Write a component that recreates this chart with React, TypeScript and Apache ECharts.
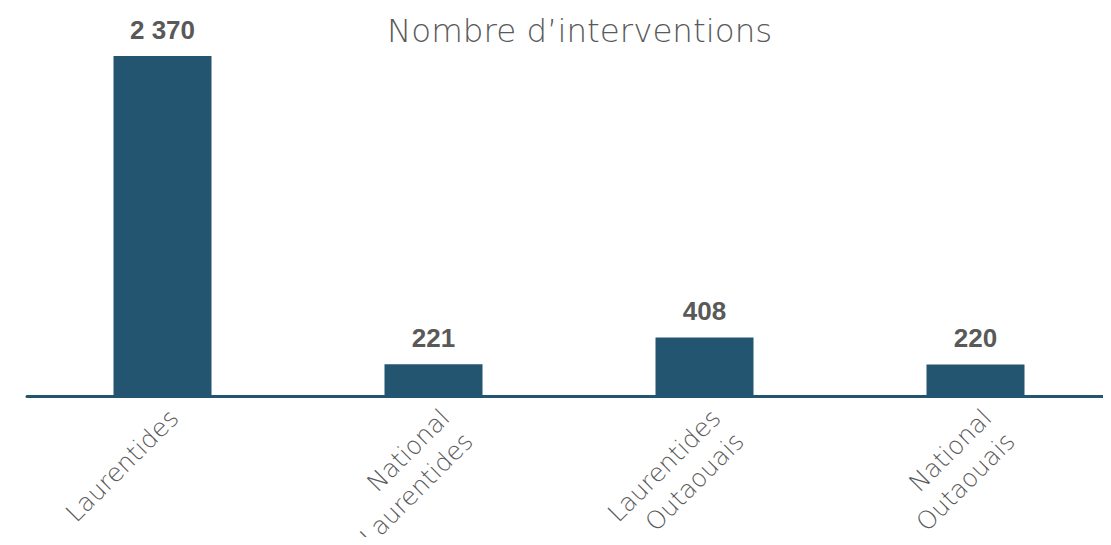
import React, { useEffect, useRef } from "react";
import * as echarts from "echarts";

const categories = [
  "Laurentides",
  "National\nLaurentides",
  "Laurentides\nOutaouais",
  "National\nOutaouais",
];
const values = [2370, 221, 408, 220];
const title = "Nombre d’interventions";

const fmt = (v: number) => String(v).replace(/\B(?=(\d{3})+(?!\d))/g, " ");

export default function App() {
  const ref = useRef<HTMLDivElement>(null);
  useEffect(() => {
    if (!ref.current) return;
    const chart = echarts.init(ref.current, null, { renderer: "svg" });
    chart.setOption({
      animation: false,
      backgroundColor: "#ffffff",
      title: {
        text: title,
        left: 382,
        top: 9,
        textStyle: {
          fontFamily: "DejaVu Sans",
          fontWeight: 200,
          fontSize: 32.5,
          color: "#595959",
        },
      },
      grid: {
        left: 27,
        right: 0,
        top: 56,
        bottom: 149,
        containLabel: false,
        outerBoundsMode: "none",
      },
      xAxis: {
        type: "category",
        data: categories,
        axisLine: { lineStyle: { color: "#23556f", width: 3 } },
        axisTick: { show: false },
        axisLabel: {
          rotate: 45,
          interval: 0,
          margin: 6,
          verticalAlign: "top",
          align: "right",
          fontFamily: "DejaVu Sans",
          fontWeight: 200,
          fontSize: 25,
          lineHeight: 33,
          color: "#595959",
        },
      },
      yAxis: {
        type: "value",
        min: 0,
        max: 2370,
        show: false,
        splitLine: { show: false },
      },
      series: [
        {
          type: "bar",
          data: values,
          barWidth: 98,
          itemStyle: { color: "#235570" },
          label: {
            show: true,
            position: "top",
            distance: 13,
            formatter: (p: any) => fmt(p.value),
            fontFamily: "Liberation Sans",
            fontWeight: "bold",
            fontSize: 26,
            color: "#595959",
          },
        },
      ],
    });
    return () => chart.dispose();
  }, []);
  return <div ref={ref} style={{ width: 1111, height: 545, margin: -8 }} />;
}
